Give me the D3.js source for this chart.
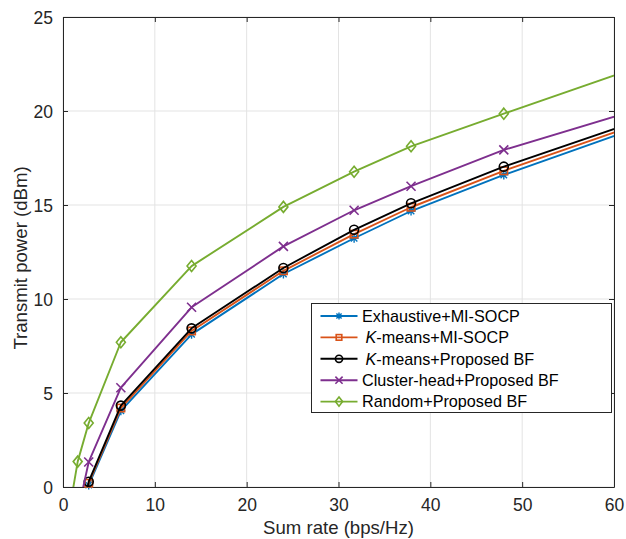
<!DOCTYPE html>
<html>
<head>
<meta charset="utf-8">
<script src="https://cdn.jsdelivr.net/npm/d3@7/dist/d3.min.js"></script>
<style>
  body { margin: 0; background: #fff; }
  svg { display: block; font-family: "Liberation Sans", Arial, sans-serif; }
</style>
</head>
<body>
<script>
// sum rate (bps/Hz) sample points, shared by all schemes
const rates = [0.9, 1.6, 2.8, 6.3, 14.0, 24.0, 31.7, 37.9, 48.0, 62.0];

// transmit power (dBm); null = no sample
const exhaustiveMI = [null, -3.2, 0.1, 4.05, 8.12, 11.33, 13.23, 14.68, 16.6, 19.02];
const kmeansMI     = [null, -3.1, 0.2, 4.2, 8.3, 11.5, 13.45, 14.88, 16.82, 19.19];
const kmeansBF     = [null, -3.0, 0.28, 4.33, 8.44, 11.65, 13.68, 15.09, 17.04, 19.37];
const clusterBF    = [null, -1.35, 1.33, 5.28, 9.56, 12.8, 14.72, 16.0, 17.93, 19.99];
const randomBF     = [-0.66, 1.35, 3.4, 7.7, 11.75, 14.9, 16.77, 18.12, 19.86, 22.22];

const xTicks = [0, 10, 20, 30, 40, 50, 60];
const yTicks = [0, 5, 10, 15, 20, 25];

const series = [
  { name: "Exhaustive+MI-SOCP", values: exhaustiveMI, color: "#0072BD", marker: "asterisk" },
  { name: "K-means+MI-SOCP", values: kmeansMI, color: "#D95319", marker: "square", italicK: true },
  { name: "K-means+Proposed BF", values: kmeansBF, color: "#000000", marker: "circle", italicK: true },
  { name: "Cluster-head+Proposed BF", values: clusterBF, color: "#7E2F8E", marker: "cross" },
  { name: "Random+Proposed BF", values: randomBF, color: "#77AC30", marker: "diamond" }
];

const width = 626, height = 539;
const margin = { top: 17, right: 12, bottom: 52, left: 63 };
const iw = width - margin.left - margin.right;
const ih = height - margin.top - margin.bottom;

const svg = d3.select("body").append("svg")
  .attr("width", width)
  .attr("height", height);

const x = d3.scaleLinear().domain([0, 60]).range([0, iw]);
const y = d3.scaleLinear().domain([0, 25]).range([ih, 0]);

const g = svg.append("g").attr("transform", `translate(${margin.left},${margin.top})`);

g.append("defs").append("clipPath").attr("id", "plot-clip")
  .append("rect").attr("width", iw).attr("height", ih);

// grid
g.append("g").selectAll("line").data(xTicks).join("line")
  .attr("x1", d => x(d)).attr("x2", d => x(d))
  .attr("y1", 0).attr("y2", ih)
  .attr("stroke", "#e3e3e3").attr("stroke-width", 1);
g.append("g").selectAll("line").data(yTicks).join("line")
  .attr("x1", 0).attr("x2", iw)
  .attr("y1", d => y(d)).attr("y2", d => y(d))
  .attr("stroke", "#e3e3e3").attr("stroke-width", 1);

// axes with inward ticks
const axisColor = "#262626";
const xAxis = g.append("g").attr("transform", `translate(0,${ih})`)
  .call(d3.axisBottom(x).tickValues(xTicks).tickSizeInner(-5).tickSizeOuter(0).tickPadding(12));
const xTop = g.append("g")
  .call(d3.axisTop(x).tickValues(xTicks).tickSizeInner(-5).tickSizeOuter(0).tickFormat(""));
const yAxis = g.append("g")
  .call(d3.axisLeft(y).tickValues(yTicks).tickSizeInner(-5).tickSizeOuter(0).tickPadding(10));
const yRight = g.append("g").attr("transform", `translate(${iw},0)`)
  .call(d3.axisRight(y).tickValues(yTicks).tickSizeInner(-5).tickSizeOuter(0).tickFormat(""));

[xAxis, xTop, yAxis, yRight].forEach(a => {
  a.select(".domain").attr("stroke", axisColor);
  a.selectAll(".tick line").attr("stroke", axisColor);
  a.selectAll(".tick text")
    .attr("fill", "#262626")
    .style("font-size", "17.5px")
    .style("font-family", "\"Liberation Sans\", Arial, sans-serif");
});
yAxis.selectAll(".tick text").attr("dy", "0.36em");

// marker drawing
function drawMarker(sel, type, color, s = 4.5) {
  if (type === "circle") {
    sel.append("circle").attr("r", s).attr("fill", "none").attr("stroke", color).attr("stroke-width", 1.6);
  } else if (type === "square") {
    sel.append("rect").attr("x", -s + 0.8).attr("y", -s + 0.8).attr("width", 2 * s - 1.6).attr("height", 2 * s - 1.6)
      .attr("fill", "none").attr("stroke", color).attr("stroke-width", 1.6);
  } else if (type === "diamond") {
    sel.append("path").attr("d", `M0,${-s - 1}L${s},0L0,${s + 1}L${-s},0Z`)
      .attr("fill", "none").attr("stroke", color).attr("stroke-width", 1.6);
  } else if (type === "cross") {
    sel.append("path").attr("d", `M${-s},${-s}L${s},${s}M${-s},${s}L${s},${-s}`)
      .attr("stroke", color).attr("stroke-width", 1.6);
  } else if (type === "asterisk") {
    const d = s * 0.72;
    sel.append("path").attr("d", `M0,${-s}L0,${s}M${-s},0L${s},0M${-d},${-d}L${d},${d}M${-d},${d}L${d},${-d}`)
      .attr("stroke", color).attr("stroke-width", 1.4);
  }
}

const line = d3.line()
  .defined(d => d[1] !== null)
  .x(d => x(d[0]))
  .y(d => y(d[1]));

series.forEach(s => {
  const pts = rates.map((r, i) => [r, s.values[i]]);
  g.append("path")
    .datum(pts)
    .attr("clip-path", "url(#plot-clip)")
    .attr("fill", "none")
    .attr("stroke", s.color)
    .attr("stroke-width", 1.9)
    .attr("stroke-linejoin", "round")
    .attr("d", line);

  const inside = pts.filter(d => d[1] !== null && d[0] >= 0 && d[0] <= 60 && d[1] >= 0 && d[1] <= 25);
  g.append("g").selectAll("g").data(inside).join("g")
    .attr("transform", d => `translate(${x(d[0])},${y(d[1])})`)
    .each(function () { drawMarker(d3.select(this), s.marker, s.color); });
});

// axis labels
svg.append("text")
  .attr("x", margin.left + iw / 2)
  .attr("y", 534)
  .attr("text-anchor", "middle")
  .attr("fill", "#262626")
  .style("font-size", "18.6px")
  .text("Sum rate (bps/Hz)");

svg.append("text")
  .attr("transform", `translate(27,${margin.top + ih / 2 + 6}) rotate(-90)`)
  .attr("text-anchor", "middle")
  .attr("fill", "#262626")
  .style("font-size", "18.6px")
  .text("Transmit power (dBm)");

// legend
const legend = svg.append("g").attr("transform", "translate(311.5,303.5)");
legend.append("rect")
  .attr("width", 300).attr("height", 109)
  .attr("fill", "#fff").attr("stroke", "#262626").attr("stroke-width", 1);

series.forEach((s, i) => {
  const ly = 12.5 + i * 21.4;
  const item = legend.append("g").attr("transform", `translate(0,${ly})`);
  item.append("line").attr("x1", 9).attr("x2", 46).attr("y1", 0).attr("y2", 0)
    .attr("stroke", s.color).attr("stroke-width", 1.9);
  drawMarker(item.append("g").attr("transform", "translate(27.5,0)"), s.marker, s.color, 3.6);
  const t = item.append("text")
    .attr("x", s.italicK ? 54 : 50.5)
    .attr("dy", "0.36em")
    .attr("fill", "#000")
    .style("font-size", "16.2px");
  if (s.italicK) {
    t.append("tspan").style("font-style", "italic").text("K");
    t.append("tspan").text(s.name.slice(1));
  } else {
    t.text(s.name);
  }
});
</script>
</body>
</html>
